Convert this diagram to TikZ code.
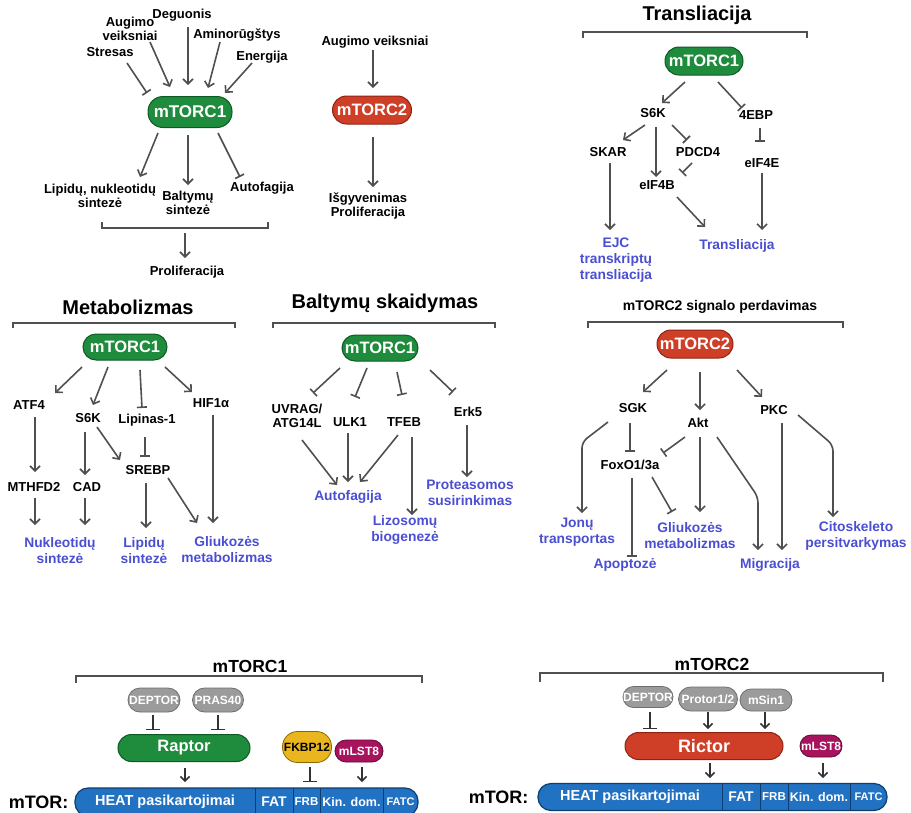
\documentclass[tikz,border=0pt]{standalone}
\usepackage{fontspec}
\setmainfont{Liberation Sans}
\usetikzlibrary{arrows.meta,positioning}

\definecolor{tgreen}{HTML}{1E8C3C}
\definecolor{tgreendk}{HTML}{0E5A24}
\definecolor{tred}{HTML}{CF3E26}
\definecolor{treddk}{HTML}{8C2414}
\definecolor{resblue}{HTML}{4A4FD2}
\definecolor{linegray}{HTML}{505050}
\definecolor{barblue}{HTML}{2272C3}
\definecolor{barbluedk}{HTML}{0E3D6E}
\definecolor{subgray}{HTML}{9B9B9B}
\definecolor{subgraydk}{HTML}{6E6E6E}
\definecolor{fkyellow}{HTML}{EAB620}
\definecolor{fkyellowdk}{HTML}{8A6A00}
\definecolor{lstpurple}{HTML}{A8135E}
\definecolor{lstpurpledk}{HTML}{5E0A35}

\begin{document}
\begin{tikzpicture}[
  x=1pt, y=-1pt,
  lbl/.style={font=\fontsize{13}{13.5}\selectfont\bfseries, align=center, inner sep=1pt},
  res/.style={font=\fontsize{13.8}{16}\selectfont\bfseries, text=resblue, align=center, inner sep=1pt},
  ttl/.style={font=\fontsize{20}{22}\selectfont\bfseries, inner sep=1pt},
  pill/.style={rectangle, draw, line width=1pt, text=white, inner sep=0pt, font=\fontsize{16.5}{18}\selectfont\bfseries},
  cone/.style={pill, fill=tgreen, draw=tgreendk},
  ctwo/.style={pill, fill=tred, draw=treddk},
  sub/.style={rectangle, draw=subgraydk, fill=subgray, line width=0.8pt, text=white, inner sep=0pt, font=\fontsize{12}{13}\selectfont\bfseries},
  lst/.style={sub, fill=lstpurple, draw=lstpurpledk},
  act/.style={draw=linegray, line width=1.6pt, -{Straight Barb[length=5pt,width=10pt]}},
  inh/.style={draw=linegray, line width=1.6pt, -{Bar[width=10pt]}},
  bact/.style={draw=black!80, line width=1.5pt, -{Straight Barb[length=4.5pt,width=9pt]}},
  binh/.style={draw=black!80, line width=1.5pt, -{Bar[width=14pt]}},
  brk/.style={draw=linegray, line width=1.6pt},
  mtorbar/.style={rectangle, draw=barbluedk, fill=barblue, line width=1.2pt, inner sep=0pt, outer sep=0pt},
  seg/.style={rectangle, inner sep=0pt, outer sep=0pt, text=white},
  segline/.style={draw=barbluedk, line width=0.8pt}
]
\useasboundingbox (0,0) rectangle (911,812);

% mTORC1 inputs and outputs
\node[cone, minimum width=84pt, minimum height=31pt, rounded corners=15pt, font=\fontsize{17}{18}\selectfont\bfseries] (a1) at (190,112) {mTORC1};
\node[lbl] (deg) at (182,15) {Deguonis};
\node[lbl] (aug) at (130,29) {Augimo\\veiksniai};
\node[lbl] (amino) at (237,35) {Aminorūgštys};
\node[lbl] (stres) at (110,52) {Stresas};
\node[lbl] (ener) at (262,57) {Energija};
\node[lbl] (lip) at (100,196) {Lipidų, nukleotidų\\sintezė};
\node[lbl] (balt) at (188,203) {Baltymų\\sintezė};
\node[lbl] (autof) at (262,188) {Autofagija};
\node[lbl] (prolif) at (187,272) {Proliferacija};
\draw[brk] (102,222) -- (102,228) -- (268,228) -- (268,222);
\coordinate (br1) at (185,233);

\draw[inh] ([shift={(17,11)}]stres.center) -- ([shift={(-43,-19)}]a1.center);
\draw[act] ([shift={(20,13)}]aug.center) -- ([shift={(-20,-25)}]a1.center);
\draw[act] ([shift={(6,12)}]deg.center) -- ([shift={(-2,-27)}]a1.center);
\draw[act] ([shift={(-17,7)}]amino.center) -- ([shift={(18,-24)}]a1.center);
\draw[act] ([shift={(-10,6)}]ener.center) -- ([shift={(35,-19)}]a1.center);
\draw[act] ([shift={(-32,21)}]a1.center) -- ([shift={(40,-19)}]lip.center);
\draw[act] ([shift={(-2,23)}]a1.center) -- ([shift={(0,-18)}]balt.center);
\draw[inh] ([shift={(28,21)}]a1.center) -- ([shift={(-22,-11)}]autof.center);
\draw[act] (br1) -- ([shift={(-2,-14)}]prolif.center);

% mTORC2 inputs and outputs
\node[ctwo, minimum width=79pt, minimum height=28pt, rounded corners=14pt] (b2) at (372,110) {mTORC2};
\node[lbl] (aug2) at (375,42) {Augimo veiksniai};
\node[lbl] (surv) at (368,206) {Išgyvenimas\\Proliferacija};
\draw[act] ([shift={(-2,8)}]aug2.center) -- ([shift={(1,-22)}]b2.center);
\draw[act] ([shift={(1,27)}]b2.center) -- ([shift={(5,-19)}]surv.center);

% Transliacija
\node[ttl] (t3) at (697,15) {Transliacija};
\draw[brk] (583,38) -- (583,32) -- (807,32) -- (807,38);
\node[cone, minimum width=78pt, minimum height=28pt, rounded corners=14pt] (c3) at (704,61) {mTORC1};
\node[lbl] (s6k3) at (653,113) {S6K};
\node[lbl] (ebp) at (756,115) {4EBP};
\node[lbl] (skar) at (608,152) {SKAR};
\node[lbl] (pdcd) at (698,152) {PDCD4};
\node[lbl] (eif4e) at (762,163) {eIF4E};
\node[lbl] (eif4b) at (657,185) {eIF4B};
\node[res] (ejc) at (616,260) {EJC\\transkriptų\\transliacija};
\node[res] (trl) at (737,246) {Transliacija};

\draw[act] ([shift={(-19,21)}]c3.center) -- ([shift={(9,-10)}]s6k3.center);
\draw[inh] ([shift={(14,21)}]c3.center) -- ([shift={(-14,-7)}]ebp.center);
\draw[act] ([shift={(-8,12)}]s6k3.center) -- ([shift={(15,-12)}]skar.center);
\draw[act] ([shift={(3,14)}]s6k3.center) -- ([shift={(-1,-8)}]eif4b.center);
\draw[inh] ([shift={(19,12)}]s6k3.center) -- ([shift={(-11,-12)}]pdcd.center);
\draw[inh] ([shift={(-6,11)}]pdcd.center) -- ([shift={(25,-12)}]eif4b.center);
\draw[inh] ([shift={(4,13)}]ebp.center) -- ([shift={(-2,-21)}]eif4e.center);
\draw[act] ([shift={(2,11)}]skar.center) -- ([shift={(-6,-30)}]ejc.center);
\draw[act] ([shift={(20,12)}]eif4b.center) -- ([shift={(-32,-19)}]trl.center);
\draw[act] ([shift={(0,10)}]eif4e.center) -- ([shift={(25,-16)}]trl.center);

% Metabolizmas
\node[ttl] (t4) at (128,307) {Metabolizmas};
\draw[brk] (13,328) -- (13,323) -- (235,323) -- (235,328);
\node[cone, minimum width=84pt, minimum height=26pt, rounded corners=13pt] (c4) at (125,347) {mTORC1};
\node[lbl] (atf) at (29,405) {ATF4};
\node[lbl] (s6k4) at (88,418) {S6K};
\node[lbl] (lipin) at (147,420) {Lipinas-1};
\node[lbl] (hif) at (211,403) {HIF1α};
\node[lbl] (srebp) at (148,470) {SREBP};
\node[lbl] (mthfd) at (34,487) {MTHFD2};
\node[lbl] (cad) at (87,487) {CAD};
\node[res] (nuk) at (60,551) {Nukleotidų\\sintezė};
\node[res] (lipsyn) at (144,551) {Lipidų\\sintezė};
\node[res] (gluk4) at (227,550) {Gliukozės\\metabolizmas};

\draw[act] ([shift={(-43,20)}]c4.center) -- ([shift={(26,-12)}]atf.center);
\draw[act] ([shift={(-17,20)}]c4.center) -- ([shift={(5,-13)}]s6k4.center);
\draw[inh] ([shift={(15,23)}]c4.center) -- ([shift={(-5,-12)}]lipin.center);
\draw[act] ([shift={(40,20)}]c4.center) -- ([shift={(-19,-11)}]hif.center);
\draw[act] ([shift={(6,12)}]atf.center) -- ([shift={(1,-15)}]mthfd.center);
\draw[act] ([shift={(-3,14)}]s6k4.center) -- ([shift={(-2,-12)}]cad.center);
\draw[act] ([shift={(9,9)}]s6k4.center) -- ([shift={(-28,-10)}]srebp.center);
\draw[inh] ([shift={(-2,17)}]lipin.center) -- ([shift={(-3,-13)}]srebp.center);
\draw[act] ([shift={(-2,13)}]srebp.center) -- ([shift={(2,-23)}]lipsyn.center);
\draw[act] ([shift={(20,8)}]srebp.center) -- ([shift={(-30,-27)}]gluk4.center);
\draw[act] ([shift={(2,12)}]hif.center) -- ([shift={(-14,-27)}]gluk4.center);
\draw[act] ([shift={(1,11)}]mthfd.center) -- ([shift={(-25,-26)}]nuk.center);
\draw[act] ([shift={(-2,11)}]cad.center) -- ([shift={(25,-26)}]nuk.center);

% Baltymu skaidymas
\node[ttl] (t5) at (385,303) {Baltymų skaidymas};
\draw[brk] (273,328) -- (273,323) -- (495,323) -- (495,328);
\node[cone, minimum width=76pt, minimum height=26pt, rounded corners=13pt] (c5) at (380,348) {mTORC1};
\node[lbl] (uvrag) at (297,416) {UVRAG/\\ATG14L};
\node[lbl] (ulk) at (350,422) {ULK1};
\node[lbl] (tfeb) at (404,422) {TFEB};
\node[lbl] (erk) at (468,412) {Erk5};
\node[res] (autof5) at (348,497) {Autofagija};
\node[res] (prot) at (470,493) {Proteasomos\\susirinkimas};
\node[res] (lizo) at (405,530) {Lizosomų\\biogenezė};

\draw[inh] ([shift={(-40,20)}]c5.center) -- ([shift={(16,-23)}]uvrag.center);
\draw[inh] ([shift={(-13,20)}]c5.center) -- ([shift={(5,-25)}]ulk.center);
\draw[inh] ([shift={(17,24)}]c5.center) -- ([shift={(-2,-27)}]tfeb.center);
\draw[inh] ([shift={(50,22)}]c5.center) -- ([shift={(-15,-20)}]erk.center);
\draw[act] ([shift={(5,24)}]uvrag.center) -- ([shift={(-11,-12)}]autof5.center);
\draw[act] ([shift={(-2,11)}]ulk.center) -- ([shift={(0,-15)}]autof5.center);
\draw[act] ([shift={(-6,13)}]tfeb.center) -- ([shift={(12,-15)}]autof5.center);
\draw[act] ([shift={(8,15)}]tfeb.center) -- ([shift={(7,-15)}]lizo.center);
\draw[act] ([shift={(-1,13)}]erk.center) -- ([shift={(-3,-16)}]prot.center);

% mTORC2 signalo perdavimas
\node[lbl, font=\fontsize{14}{16}\selectfont\bfseries] (t6) at (720,307) {mTORC2 signalo perdavimas};
\draw[brk] (588,328) -- (588,322) -- (843,322) -- (843,328);
\node[ctwo, minimum width=76pt, minimum height=28pt, rounded corners=14pt] (c6) at (695,344) {mTORC2};
\node[lbl] (sgk) at (633,408) {SGK};
\node[lbl] (akt) at (698,423) {Akt};
\node[lbl] (pkc) at (774,410) {PKC};
\node[lbl] (fox) at (630,465) {FoxO1/3a};
\node[res] (jon) at (577,532) {Jonų\\transportas};
\node[res] (gluk6) at (690,536) {Gliukozės\\metabolizmas};
\node[res] (apop) at (625,565) {Apoptozė};
\node[res] (migr) at (770,565) {Migracija};
\node[res] (cito) at (856,536) {Citoskeleto\\persitvarkymas};

\draw[act] ([shift={(-28,26)}]c6.center) -- ([shift={(10,-16)}]sgk.center);
\draw[act] ([shift={(5,28)}]c6.center) -- ([shift={(2,-13)}]akt.center);
\draw[act] ([shift={(42,26)}]c6.center) -- ([shift={(-12,-13)}]pkc.center);
\draw[inh] ([shift={(-3,15)}]sgk.center) -- ([shift={(0,-13)}]fox.center);
\draw[inh] ([shift={(-13,14)}]akt.center) -- ([shift={(33,-12)}]fox.center);
\draw[act, rounded corners=6pt] ([shift={(-25,14)}]sgk.center) -- ([shift={(5,-90)}]jon.center) -- ([shift={(5,-19)}]jon.center);
\draw[inh] ([shift={(2,13)}]fox.center) -- ([shift={(7,-8)}]apop.center);
\draw[inh] ([shift={(22,12)}]fox.center) -- ([shift={(-18,-24)}]gluk6.center);
\draw[act] ([shift={(2,14)}]akt.center) -- ([shift={(10,-24)}]gluk6.center);
\draw[act, rounded corners=6pt] ([shift={(19,14)}]akt.center) -- ([shift={(-12,-68)}]migr.center) -- ([shift={(-12,-15)}]migr.center);
\draw[act] ([shift={(8,13)}]pkc.center) -- ([shift={(12,-15)}]migr.center);
\draw[act, rounded corners=6pt] ([shift={(24,5)}]pkc.center) -- ([shift={(-23,-91)}]cito.center) -- ([shift={(-23,-19)}]cito.center);

% mTORC1 complex
\node[font=\fontsize{17.5}{19}\selectfont\bfseries] (t7) at (250,666) {mTORC1};
\draw[brk] (76,683) -- (76,676) -- (422,676) -- (422,683);
\node[sub, minimum width=52pt, minimum height=24pt, rounded corners=12pt] (dep1) at (154,700) {DEPTOR};
\node[sub, minimum width=51pt, minimum height=24pt, rounded corners=12pt] (pras) at (218,700) {PRAS40};
\node[cone, minimum width=132pt, minimum height=27pt, rounded corners=13.5pt, font=\fontsize{16.5}{18}\selectfont\bfseries] (raptor) at (184,748) {Raptor};
\node[sub, fill=fkyellow, draw=fkyellowdk, text=black, minimum width=49pt, minimum height=31pt, rounded corners=15pt] (fkbp) at (307,747) {FKBP12};
\node[lst, minimum width=48pt, minimum height=22pt, rounded corners=11pt] (mlst1) at (359,751) {mLST8};
\node[mtorbar, minimum width=343pt, minimum height=28pt, rounded corners=13pt] (bar1) at (246.5,802) {};
\node[seg, minimum width=180pt, minimum height=28pt, anchor=west, font=\fontsize{14.5}{16}\selectfont\bfseries] (heat1) at (bar1.west) {HEAT pasikartojimai};
\node[seg, minimum width=38pt, minimum height=28pt, right=0pt of heat1, font=\fontsize{14}{16}\selectfont\bfseries] (fat1) {FAT};
\node[seg, minimum width=27pt, minimum height=28pt, right=0pt of fat1, font=\fontsize{11.5}{13}\selectfont\bfseries] (frb1) {FRB};
\node[seg, minimum width=63pt, minimum height=28pt, right=0pt of frb1, font=\fontsize{12.5}{14}\selectfont\bfseries] (kin1) {Kin. dom.};
\node[seg, minimum width=35pt, minimum height=28pt, right=0pt of kin1, font=\fontsize{11}{13}\selectfont\bfseries] (fatc1) {FATC};
\foreach \s in {heat1,fat1,frb1,kin1} \draw[segline] (\s.north east) -- (\s.south east);
\node[font=\fontsize{18}{20}\selectfont\bfseries, left=3pt of bar1] (mtor1) {mTOR:};

\draw[binh] ([shift={(-1,15)}]dep1.center) -- ([shift={(-31,-18)}]raptor.center);
\draw[binh] ([shift={(0,15)}]pras.center) -- ([shift={(34,-18)}]raptor.center);
\draw[bact] ([shift={(1,20)}]raptor.center) -- ([shift={(20,-20)}]heat1.center);
\draw[binh] ([shift={(3,20)}]fkbp.center) -- ([shift={(3.5,-20)}]frb1.center);
\draw[bact] ([shift={(3,16)}]mlst1.center) -- ([shift={(10.5,-20)}]kin1.center);

% mTORC2 complex
\node[font=\fontsize{17.5}{19}\selectfont\bfseries] (t8) at (712,664) {mTORC2};
\draw[brk] (540,682) -- (540,673) -- (883,673) -- (883,682);
\node[sub, minimum width=50pt, minimum height=21pt, rounded corners=10.5pt] (dep2) at (648,697) {DEPTOR};
\node[sub, minimum width=59pt, minimum height=24pt, rounded corners=12pt] (protor) at (708,699) {Protor1/2};
\node[sub, minimum width=52pt, minimum height=22pt, rounded corners=11pt] (msin) at (766,700) {mSin1};
\node[ctwo, minimum width=158pt, minimum height=27pt, rounded corners=13.5pt, font=\fontsize{18}{20}\selectfont\bfseries] (rictor) at (704,746) {Rictor};
\node[lst, minimum width=42pt, minimum height=22pt, rounded corners=11pt] (mlst2) at (821,746) {mLST8};
\node[mtorbar, minimum width=349pt, minimum height=27pt, rounded corners=13pt] (bar2) at (712.5,797) {};
\node[seg, minimum width=184pt, minimum height=27pt, anchor=west, font=\fontsize{14.5}{16}\selectfont\bfseries] (heat2) at (bar2.west) {HEAT pasikartojimai};
\node[seg, minimum width=38pt, minimum height=27pt, right=0pt of heat2, font=\fontsize{14}{16}\selectfont\bfseries] (fat2) {FAT};
\node[seg, minimum width=28pt, minimum height=27pt, right=0pt of fat2, font=\fontsize{11.5}{13}\selectfont\bfseries] (frb2) {FRB};
\node[seg, minimum width=62pt, minimum height=27pt, right=0pt of frb2, font=\fontsize{12.5}{14}\selectfont\bfseries] (kin2) {Kin. dom.};
\node[seg, minimum width=37pt, minimum height=27pt, right=0pt of kin2, font=\fontsize{11}{13}\selectfont\bfseries] (fatc2) {FATC};
\foreach \s in {heat2,fat2,frb2,kin2} \draw[segline] (\s.north east) -- (\s.south east);
\node[font=\fontsize{18}{20}\selectfont\bfseries, left=6pt of bar2] (mtor2) {mTOR:};

\draw[binh] ([shift={(2,15)}]dep2.center) -- ([shift={(-54,-17)}]rictor.center);
\draw[bact] ([shift={(0,13)}]protor.center) -- ([shift={(4,-17)}]rictor.center);
\draw[bact] ([shift={(-1,12)}]msin.center) -- ([shift={(61,-17)}]rictor.center);
\draw[bact] ([shift={(6,17)}]rictor.center) -- ([shift={(80,-19)}]heat2.center);
\draw[bact] ([shift={(2,17)}]mlst2.center) -- ([shift={(4,-19)}]kin2.center);

\end{tikzpicture}
\end{document}
